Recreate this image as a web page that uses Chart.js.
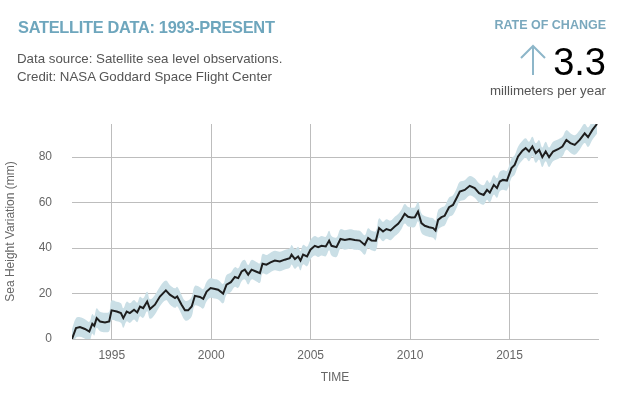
<!DOCTYPE html>
<html>
<head>
<meta charset="utf-8">
<script src="https://cdn.jsdelivr.net/npm/chart.js@4"></script>
<style>
  body { margin: 0; background: #fff; font-family: "Liberation Sans", Arial, sans-serif; }
  #wrap { position: relative; width: 619px; height: 393px; }
  #wrap canvas { position: absolute; left: 0; top: 0; }
  .txt { position: absolute; line-height: 1; white-space: nowrap; }
  .title { left: 18px; top: 18.5px; font-size: 16.4px; font-weight: bold; color: #6ea6bd; letter-spacing: -0.3px; }
  .src { left: 17px; font-size: 13.3px; color: #555; }
  .rate { right: 13px; top: 18.5px; font-size: 12.5px; font-weight: bold; color: #7aa8bd; }
  .big { right: 13px; top: 42.5px; font-size: 38px; color: #000; }
  .unit { right: 13px; top: 84px; font-size: 13.3px; color: #555; }
  #arrow { position: absolute; left: 518px; top: 44px; }
</style>
</head>
<body>
<div id="wrap">
  <canvas id="seaChart" width="619" height="393"></canvas>
  <div class="txt title">SATELLITE DATA: 1993-PRESENT</div>
  <div class="txt src" style="top:52px">Data source: Satellite sea level observations.</div>
  <div class="txt src" style="top:69.5px">Credit: NASA Goddard Space Flight Center</div>
  <div class="txt rate">RATE OF CHANGE</div>
  <svg id="arrow" width="30" height="32"><path d="M15 2 L15 31 M3 14 L15 2 L27 14" stroke="#8db6c9" stroke-width="2" fill="none"/></svg>
  <div class="txt big">3.3</div>
  <div class="txt unit">millimeters per year</div>
</div>
<script>
// Sea level readings (year, mm)
const years = [
  1993.00, 1993.20, 1993.40, 1993.65, 1993.87, 1994.02, 1994.12, 1994.24, 1994.41, 1994.66,
  1994.87, 1994.99, 1995.25, 1995.46, 1995.58, 1995.75, 1995.91, 1996.12, 1996.28, 1996.42,
  1996.58, 1996.78, 1996.92, 1997.17, 1997.42, 1997.72, 1997.92, 1998.18, 1998.29, 1998.51,
  1998.68, 1998.84, 1999.02, 1999.18, 1999.43, 1999.60, 1999.77, 1999.97, 2000.14, 2000.35,
  2000.60, 2000.77, 2000.99, 2001.19, 2001.36, 2001.53, 2001.69, 2001.86, 2002.03, 2002.25,
  2002.45, 2002.58, 2002.78, 2002.98, 2003.20, 2003.45, 2003.70, 2003.95, 2004.04, 2004.21,
  2004.37, 2004.49, 2004.62, 2004.82, 2004.99, 2005.21, 2005.38, 2005.55, 2005.76, 2005.93,
  2006.05, 2006.30, 2006.50, 2006.72, 2006.97, 2007.22, 2007.47, 2007.72, 2007.89, 2008.06,
  2008.28, 2008.44, 2008.64, 2008.81, 2009.02, 2009.23, 2009.40, 2009.57, 2009.73, 2009.90,
  2010.07, 2010.24, 2010.40, 2010.57, 2010.74, 2010.96, 2011.16, 2011.28, 2011.41, 2011.58,
  2011.74, 2011.96, 2012.16, 2012.36, 2012.50, 2012.75, 2013.00, 2013.25, 2013.47, 2013.70,
  2013.87, 2014.01, 2014.21, 2014.37, 2014.51, 2014.67, 2014.87, 2015.10, 2015.26, 2015.43,
  2015.65, 2015.81, 2015.98, 2016.15, 2016.32, 2016.49, 2016.65, 2016.82, 2016.99, 2017.19,
  2017.44, 2017.66, 2017.86, 2018.06, 2018.28, 2018.53, 2018.78, 2018.95, 2019.17, 2019.40
];
const seaLevel = [
  0.0, 4.8, 5.3, 4.4, 3.3, 6.7, 5.8, 9.2, 7.7, 7.3,
  7.7, 12.6, 12.1, 11.4, 9.2, 12.1, 11.4, 12.9, 11.7, 14.3,
  13.6, 16.5, 13.2, 15.1, 18.7, 21.4, 19.5, 18.0, 18.7, 15.1,
  12.6, 12.6, 14.3, 19.0, 18.5, 17.7, 20.9, 22.4, 22.1, 21.7,
  20.0, 23.9, 25.0, 27.3, 26.8, 29.7, 30.5, 28.3, 30.5, 29.7,
  29.0, 33.1, 32.7, 33.7, 34.5, 34.1, 34.9, 35.6, 37.1, 35.2,
  36.3, 34.5, 37.1, 36.3, 39.3, 41.0, 40.4, 41.0, 40.7, 43.3,
  41.0, 40.4, 44.0, 43.6, 44.0, 43.6, 43.3, 41.4, 44.4, 43.3,
  43.2, 48.8, 47.3, 48.4, 47.8, 49.5, 50.7, 52.7, 55.1, 53.8,
  53.5, 53.6, 56.1, 51.0, 49.8, 49.2, 48.8, 47.7, 52.4, 53.6,
  54.2, 58.0, 59.0, 62.4, 64.9, 65.6, 67.4, 66.4, 64.2, 63.4,
  65.6, 64.4, 67.8, 66.4, 69.3, 70.0, 69.7, 75.2, 76.6, 80.3,
  82.9, 84.0, 82.5, 84.7, 81.8, 83.2, 80.0, 82.5, 80.0, 82.5,
  83.5, 84.7, 87.6, 86.2, 85.4, 87.6, 90.5, 88.8, 92.0, 94.6
];
// Half-width of the uncertainty band (mm)
const uncertainty = 4.3;

const xTicks = [1995, 2000, 2005, 2010, 2015];
const yTicks = [0, 20, 40, 60, 80];

const points = years.map((x, i) => ({ x: x, y: seaLevel[i] }));
const lower = years.map((x, i) => ({ x: x, y: seaLevel[i] - uncertainty }));
const upper = years.map((x, i) => ({ x: x, y: seaLevel[i] + uncertainty }));

const font = { family: '"Liberation Sans", Arial, sans-serif', size: 12 };
const bandColor = '#cadfe6';

new Chart(document.getElementById('seaChart'), {
  type: 'line',
  data: {
    datasets: [
      { data: lower, borderWidth: 0, pointRadius: 0, fill: false, tension: 0.4, order: 2 },
      { data: upper, borderWidth: 0, pointRadius: 0, fill: '-1', backgroundColor: bandColor, tension: 0.4, order: 1 },
      { data: points, borderColor: '#1e1e1e', borderWidth: 2, pointRadius: 0, fill: false, tension: 0, order: 0 }
    ]
  },
  options: {
    responsive: false,
    animation: false,
    layout: { padding: { top: 124, right: 21, left: 0, bottom: 0 } },
    plugins: { legend: { display: false }, tooltip: { enabled: false } },
    scales: {
      x: {
        type: 'linear',
        min: 1993,
        max: 2019.45,
        afterBuildTicks: s => { s.ticks = xTicks.map(v => ({ value: v })); },
        afterFit: s => { s.height = 54; },
        grid: { color: '#bdbdbd', drawTicks: false },
        border: { color: '#bdbdbd' },
        ticks: { font: font, color: '#666', padding: 9, callback: v => String(v) },
        title: { display: true, text: 'TIME', font: font, color: '#666', padding: { top: 0, bottom: 8 } }
      },
      y: {
        min: 0,
        max: 94.6,
        afterBuildTicks: s => { s.ticks = yTicks.map(v => ({ value: v })); },
        afterFit: s => { s.width = 72; },
        grid: { color: '#bdbdbd', drawTicks: false },
        border: { display: false },
        ticks: { font: font, color: '#666', padding: 20 },
        title: { display: true, text: 'Sea Height Variation (mm)', font: font, color: '#666', padding: { top: 3, bottom: 0 } }
      }
    }
  }
});
</script>
</body>
</html>
